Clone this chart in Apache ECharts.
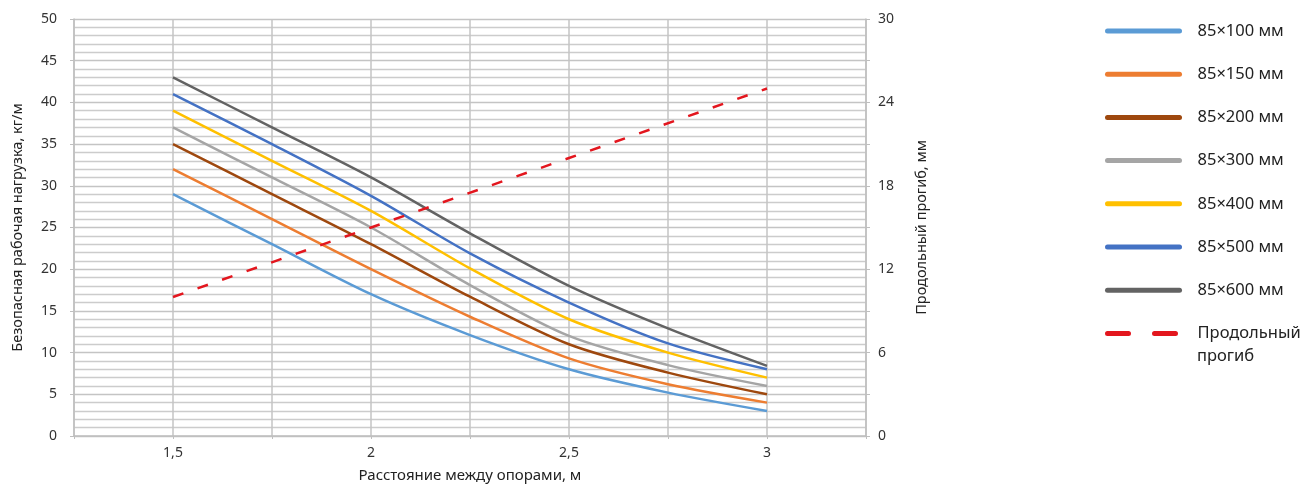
<!DOCTYPE html>
<html>
<head>
<meta charset="utf-8">
<script src="https://cdn.jsdelivr.net/npm/echarts@6/dist/echarts.min.js"></script>
<style>
html,body{margin:0;padding:0;background:#fff;overflow:hidden;}
#c{width:1307px;height:484px;}
</style>
</head>
<body>
<div id="c"></div>
<script>
var spans = [1.5, 1.75, 2, 2.25, 2.5, 2.75, 3];
var s100 = [29, 23, 17, 12.1, 8, 5.2, 3];
var s150 = [32, 26, 20, 14.3, 9.3, 6.2, 4];
var s200 = [35, 29, 23, 16.7, 11, 7.6, 5];
var s300 = [37, 31, 25, 18.1, 12, 8.5, 6];
var s400 = [39, 33, 27, 20.1, 14, 10, 7];
var s500 = [41, 35, 28.8, 21.9, 16, 11.1, 8];
var s600 = [43, 37, 31, 24.3, 18, 12.9, 8.4];
var deflSpans = [1.5, 2, 2.5, 3];
var deflection = [10, 15, 20, 25];
var names = ['85×100 мм','85×150 мм','85×200 мм','85×300 мм','85×400 мм','85×500 мм','85×600 мм','Продольный прогиб'];
var legendLabels = ['85×100 мм','85×150 мм','85×200 мм','85×300 мм','85×400 мм','85×500 мм','85×600 мм','Продольный'];
var legendExtra = 'прогиб';
var colors = ['#5B9BD5','#ED7D31','#9E480E','#A5A5A5','#FFC000','#4472C4','#636363','#E3161E'];
var loads = [s100,s150,s200,s300,s400,s500,s600];

function pairs(xs, ys){ return xs.map(function(x,i){return [x, ys[i]];}); }

var FONT = 'Noto Sans';
var series = loads.map(function(arr, i){
  return {
    name: names[i], type: 'line', data: pairs(spans, arr), smooth: 0.3,
    symbol: 'none', yAxisIndex: 0,
    lineStyle: {color: colors[i], width: 2.5},
    itemStyle: {color: colors[i]}
  };
});
series.push({
  name: names[7], type: 'line', data: pairs(deflSpans, deflection),
  symbol: 'none', yAxisIndex: 1,
  lineStyle: {color: colors[7], width: 2.5, type: [11, 15]},
  itemStyle: {color: colors[7]}
});

var legendData = names.map(function(n, i){
  var d = {name: n, itemStyle: {opacity: 0}, lineStyle: {color: colors[i], width: 5, cap: 'round', type: 'solid'}};
  if (i === 7) d.lineStyle.type = [21, 26];
  return d;
});

var chart = echarts.init(document.getElementById('c'), null, {renderer: 'canvas'});
chart.setOption({
  animation: false,
  textStyle: {fontFamily: FONT},
  grid: {left: 74, right: 441, top: 19, bottom: 48, containLabel: false, outerBoundsMode: 'none'},
  legend: {
    orient: 'vertical', left: 1105, top: 21, padding: 0,
    itemWidth: 72, itemHeight: 10, itemGap: 23.2,
    data: legendData,
    formatter: function(n){ return legendLabels[names.indexOf(n)]; },
    textStyle: {fontFamily: FONT, fontSize: 16.5, color: '#222', lineHeight: 20, padding: [0, 0, 0, 13]}
  },
  graphic: [{
    type: 'text', left: 1197, top: 348,
    style: {text: legendExtra, fontFamily: FONT, fontSize: 16.5, fill: '#222'}
  }],
  xAxis: {
    type: 'value', min: 1.25, max: 3.25, interval: 0.25,
    name: 'Расстояние между опорами, м', nameLocation: 'middle', nameGap: 32,
    nameTextStyle: {fontSize: 15, color: '#222', fontFamily: FONT},
    axisLine: {show: true, lineStyle: {color: '#bfbfbf', width: 1.5}},
    axisTick: {show: true, length: 3, lineStyle: {color: '#bfbfbf'}},
    axisLabel: {
      fontSize: 14, color: '#333', margin: 10, fontFamily: FONT,
      formatter: function(v){
        var r = Math.round(v*100)/100;
        if (Math.abs(r*2 - Math.round(r*2)) > 1e-6 || r < 1.4 || r > 3.1) return '';
        return String(r).replace('.', ',');
      }
    },
    splitLine: {show: true, lineStyle: {color: '#c4c4c4', width: 1.5}}
  },
  yAxis: [{
    type: 'value', min: 0, max: 50, interval: 5,
    name: 'Безопасная рабочая нагрузка, кг/м', nameLocation: 'middle', nameGap: 49,
    nameTextStyle: {fontSize: 14.5, color: '#222', fontFamily: FONT},
    axisLine: {show: true, lineStyle: {color: '#bfbfbf', width: 1.5}},
    axisTick: {show: true, length: 4, lineStyle: {color: '#bfbfbf'}},
    axisLabel: {fontSize: 14, color: '#333', margin: 17, fontFamily: FONT},
    splitLine: {show: true, lineStyle: {color: '#c4c4c4', width: 1.3}},
    minorTick: {show: false, splitNumber: 5},
    minorSplitLine: {show: true, lineStyle: {color: '#cccccc', width: 1.3}}
  }, {
    type: 'value', min: 0, max: 30, interval: 3, position: 'right',
    name: 'Продольный прогиб, мм', nameLocation: 'middle', nameGap: 48, nameRotate: 90,
    nameTextStyle: {fontSize: 14.5, color: '#222', fontFamily: FONT},
    axisLine: {show: true, lineStyle: {color: '#bfbfbf', width: 1.5}},
    axisTick: {show: true, length: 4, lineStyle: {color: '#bfbfbf'}},
    axisLabel: {fontSize: 14, color: '#333', margin: 12, fontFamily: FONT,
      formatter: function(v){ return (Math.round(v) % 6 === 0) ? String(v) : ''; }},
    splitLine: {show: false}
  }],
  series: series
});
</script>
</body>
</html>
